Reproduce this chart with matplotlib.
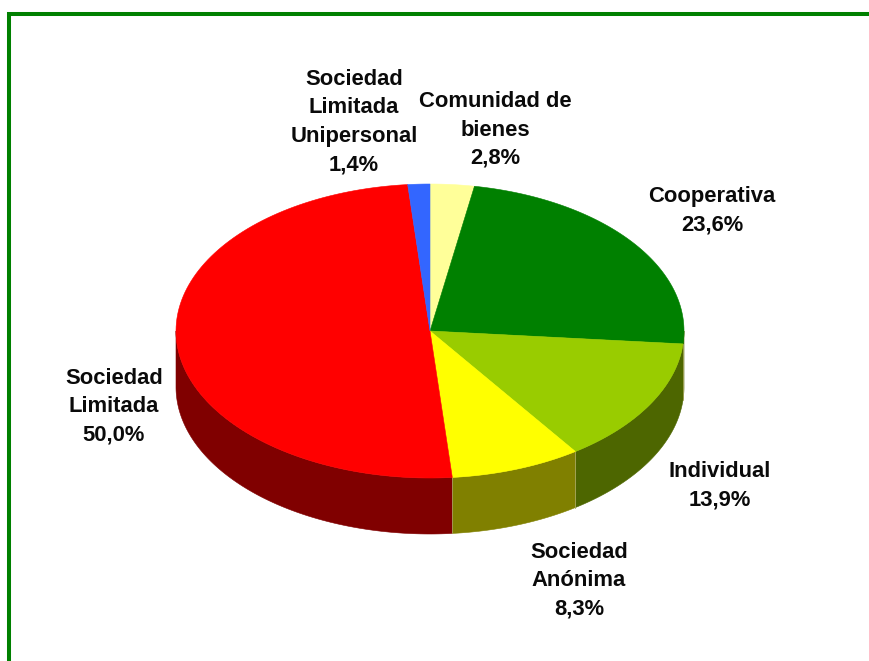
import matplotlib
matplotlib.use("Agg")
import matplotlib.pyplot as plt
import numpy as np

LABELS = ["Comunidad de\nbienes", "Cooperativa", "Individual", "Sociedad\nAnónima",
          "Sociedad\nLimitada", "Sociedad\nLimitada\nUnipersonal"]
PCTS = [2.8, 23.6, 13.9, 8.3, 50.0, 1.4]
TOP_COLORS = ["#FFFF99", "#008000", "#99CC00", "#FFFF00", "#FF0000", "#3366FF"]
SIDE_COLORS = ["#808050", "#4D6600", "#4D6600", "#808000", "#800000", "#1A3380"]
LABEL_POS = [(495, 130), (712, 211), (720, 486), (579, 581), (114, 407), (354, 122)]

W, H = 870, 661
CX, CY, RX, RY, DEPTH = 430, 331, 254, 147, 56


def rim(a0, a1, n=120):
    t = np.radians(np.linspace(a0, a1, n))
    return CX + RX * np.sin(t), CY - RY * np.cos(t)


plt.rcParams["font.family"] = ["Liberation Sans", "DejaVu Sans"]
fig = plt.figure(figsize=(W / 100, H / 100), dpi=100)
ax = fig.add_axes([0, 0, 1, 1])
ax.set_xlim(0, W)
ax.set_ylim(H, 0)
ax.axis("off")

# frame, only top and left are visible
ax.plot([9, 9, W], [H, 14, 14], color="#008000", linewidth=2.9, solid_joinstyle="miter")

edges = np.cumsum([0] + PCTS) / 100 * 360
for i in range(len(PCTS)):
    # visible side wall is the front half of the ellipse
    a0, a1 = max(edges[i], 90), min(edges[i + 1], 270)
    if a1 > a0:
        x, y = rim(a0, a1)
        ax.fill(np.r_[x, x[::-1]], np.r_[y, y[::-1] + DEPTH],
                color=SIDE_COLORS[i], linewidth=0.4, zorder=2)
        if edges[i] > 90:
            # thin pale seam between neighbouring walls
            ax.plot([x[0], x[0]], [y[0], y[0] + DEPTH], color="#A8A860",
                    linewidth=0.6, zorder=2.5)
    x, y = rim(edges[i], edges[i + 1])
    ax.fill(np.r_[CX, x], np.r_[CY, y], color=TOP_COLORS[i], linewidth=0.4, zorder=3)

for name, pct, (tx, ty) in zip(LABELS, PCTS, LABEL_POS):
    s = f"{name}\n{pct:.1f}%".replace(".", ",")
    ax.text(tx, ty, s, ha="center", va="center", fontsize=15.8, fontweight="bold",
            color="#0A0A0A", linespacing=1.46, zorder=5)

fig.savefig("out.png", dpi=100)
